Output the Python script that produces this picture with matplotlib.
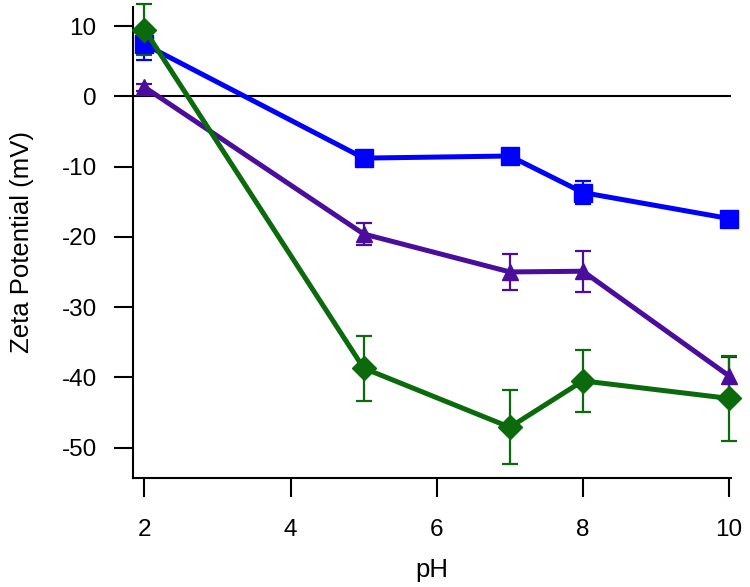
import matplotlib
matplotlib.use("Agg")
import matplotlib.pyplot as plt

plt.rcParams["font.family"] = ["Liberation Sans", "DejaVu Sans"]
plt.rcParams["axes.unicode_minus"] = False

ph = [2, 5, 7, 8, 10]

blue_y = [7.4, -8.8, -8.5, -13.7, -17.4]
blue_err = [2.3, 0.6, 0.6, 1.6, 0.5]

purple_y = [1.3, -19.6, -25.0, -24.9, -39.8]
purple_err = [0.5, 1.5, 2.5, 2.9, 2.7]

green_y = [9.5, -38.7, -47.1, -40.5, -43.0]
green_err = [3.6, 4.6, 5.3, 4.4, 6.0]

xticks = [2, 4, 6, 8, 10]
yticks = [10, 0, -10, -20, -30, -40, -50]

fig = plt.figure(figsize=(7.5, 5.87), dpi=100)
ax = fig.add_axes([0.177, 0.186, 0.798, 0.802])

ax.axhline(0, color="black", lw=1.5, zorder=1)

series = [
    (blue_y, blue_err, "#0000ff", "s", 13),
    (purple_y, purple_err, "#4b0d9c", "^", 12),
    (green_y, green_err, "#0b6a0b", "D", 12),
]
for y, e, c, m, ms in series:
    lines = ax.errorbar(ph, y, yerr=e, color=c, marker=m, markersize=ms, lw=3.6,
                        elinewidth=1.6, capsize=6, capthick=1.6, zorder=3)
    for art in lines.get_children():
        art.set_clip_on(False)

ax.set_xlim(1.84, 10.03)
ax.set_ylim(-54.3, 12.7)
ax.set_xticks(xticks)
ax.set_yticks(yticks)
ax.spines["top"].set_visible(False)
ax.spines["right"].set_visible(False)
for s in ["left", "bottom"]:
    ax.spines[s].set_linewidth(1.5)
ax.tick_params(direction="out", length=14, width=1.5, labelsize=17.5, pad=12)
ax.tick_params(axis="x", pad=16)
ax.set_xlabel("pH", fontsize=18.5, labelpad=12)
ax.set_ylabel("Zeta Potential (mV)", fontsize=18.5, labelpad=20)

fig.savefig("out.png", dpi=100)
